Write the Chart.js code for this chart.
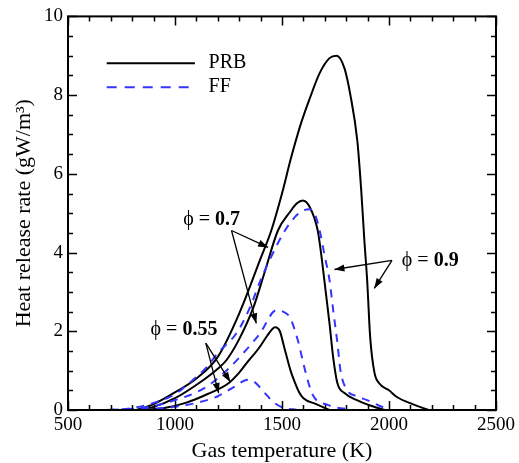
<!DOCTYPE html>
<html>
<head>
<meta charset="utf-8">
<script src="https://cdn.jsdelivr.net/npm/chart.js@4.4.1/dist/chart.umd.min.js"></script>
<style>
  html, body { margin: 0; padding: 0; background: #fff; }
  #wrap { width: 519px; height: 463px; position: relative; }
</style>
</head>
<body>
<div id="wrap"><canvas id="chart"></canvas></div>
<script>
// Gas temperature (K) / heat release rate (gW/m3)
const prb09T = [820, 900, 1000, 1100, 1200, 1300, 1400, 1450, 1500, 1542, 1588, 1630, 1676, 1722, 1755, 1792, 1819, 1852, 1870, 1885, 1898, 1912, 1932, 1954, 2000, 2037, 2110, 2185];
const prb09Q = [0, 0.15, 0.45, 0.8, 1.35, 2.45, 3.85, 4.56, 5.5, 6.4, 7.27, 7.92, 8.56, 8.94, 9.0, 8.68, 8.02, 6.84, 5.6, 4.3, 3.29, 1.85, 0.95, 0.68, 0.5, 0.33, 0.15, 0];

const prb07T = [830, 900, 1000, 1111, 1200, 1241, 1300, 1366, 1420, 1481, 1540, 1570, 1597, 1630, 1667, 1681, 1700, 1722, 1740, 1759, 1792, 1850, 1920, 1980];
const prb07Q = [0, 0.08, 0.3, 0.68, 1.05, 1.27, 1.8, 2.6, 3.52, 4.56, 5.05, 5.25, 5.32, 5.15, 4.56, 4.05, 3.2, 2.2, 1.3, 0.68, 0.43, 0.25, 0.1, 0];

const prb055T = [850, 950, 1050, 1150, 1250, 1300, 1343, 1389, 1430, 1455, 1468, 1490, 1510, 1540, 1560, 1580, 1600, 1660, 1722];
const prb055Q = [0, 0.05, 0.18, 0.4, 0.68, 0.95, 1.25, 1.55, 1.88, 2.06, 2.1, 2.0, 1.6, 1.0, 0.7, 0.45, 0.3, 0.15, 0];

const ff09T = [680, 800, 900, 1000, 1065, 1150, 1200, 1287, 1350, 1400, 1450, 1514, 1560, 1600, 1630, 1655, 1676, 1700, 1722, 1740, 1759, 1773, 1805, 1850, 1898, 1950, 2005];
const ff09Q = [0, 0.05, 0.18, 0.4, 0.68, 1.1, 1.45, 1.95, 2.6, 3.3, 3.9, 4.56, 4.9, 5.07, 5.1, 4.95, 4.56, 3.9, 3.3, 2.5, 1.7, 1.01, 0.5, 0.35, 0.25, 0.12, 0];

const ff07T = [700, 800, 900, 1000, 1100, 1171, 1250, 1320, 1360, 1398, 1430, 1455, 1472, 1505, 1537, 1574, 1611, 1644, 1713, 1838];
const ff07Q = [0, 0.03, 0.1, 0.25, 0.45, 0.68, 1.05, 1.45, 1.7, 1.95, 2.25, 2.47, 2.53, 2.5, 2.35, 1.77, 0.94, 0.38, 0.13, 0];

const ff055T = [700, 900, 1000, 1100, 1200, 1280, 1340, 1370, 1420, 1460, 1500, 1570];
const ff055Q = [0, 0.03, 0.08, 0.18, 0.35, 0.6, 0.77, 0.72, 0.43, 0.2, 0.07, 0];

const xTicks = [500, 1000, 1500, 2000, 2500];
const yTicks = [0, 2, 4, 6, 8, 10];

const FONT = '"Liberation Serif", "Times New Roman", serif';
const BLUE = '#3535ff';

function pts(xs, ys) {
	return xs.map((x, i) => ({ x, y: ys[i] }));
}

function solid(data) {
	return { data, borderColor: '#000', borderWidth: 2, pointRadius: 0, showLine: true, fill: false, cubicInterpolationMode: 'monotone' };
}
function dashed(data) {
	return { data, borderColor: BLUE, borderWidth: 2, borderDash: [8, 7], pointRadius: 0, showLine: true, fill: false, cubicInterpolationMode: 'monotone' };
}

function arrow(ctx, x0, y0, x1, y1) {
	ctx.beginPath();
	ctx.moveTo(x0, y0);
	ctx.lineTo(x1, y1);
	ctx.stroke();
	const a = Math.atan2(y1 - y0, x1 - x0);
	const L = 10, W = 3.5;
	ctx.beginPath();
	ctx.moveTo(x1, y1);
	ctx.lineTo(x1 - L * Math.cos(a) + W * Math.sin(a), y1 - L * Math.sin(a) - W * Math.cos(a));
	ctx.lineTo(x1 - L * Math.cos(a) - W * Math.sin(a), y1 - L * Math.sin(a) + W * Math.cos(a));
	ctx.closePath();
	ctx.fill();
}

function phiLabel(ctx, x, y, num, align) {
	const f1 = '20px ' + FONT;
	const f2 = 'bold 20px ' + FONT;
	ctx.font = f1;
	const w1 = ctx.measureText('\u03d5 = ').width;
	ctx.font = f2;
	const w2 = ctx.measureText(num).width;
	let left = align === 'left' ? x : x - (w1 + w2) / 2;
	ctx.textAlign = 'left';
	ctx.textBaseline = 'middle';
	ctx.font = f1;
	ctx.fillText('\u03d5 = ', left, y);
	ctx.font = f2;
	ctx.fillText(num, left + w1, y);
}

// frame, inward ticks on all sides, titles, legend and arrows
const decor = {
	id: 'decor',
	afterDatasetsDraw(chart) {
		const { ctx, chartArea: a, scales: { x, y } } = chart;
		ctx.save();
		ctx.strokeStyle = '#000';
		ctx.fillStyle = '#000';
		ctx.lineWidth = 2;
		ctx.strokeRect(a.left, a.top, a.right - a.left, a.bottom - a.top);
		ctx.lineWidth = 1.5;
		for (let v = 500; v <= 2500; v += 100) {
			const px = Math.round(x.getPixelForValue(v)) + 0.5;
			const len = v % 500 === 0 ? 9 : 5;
			ctx.beginPath();
			ctx.moveTo(px, a.bottom); ctx.lineTo(px, a.bottom - len);
			ctx.moveTo(px, a.top); ctx.lineTo(px, a.top + len);
			ctx.stroke();
		}
		for (let v = 0; v <= 10; v += 0.5) {
			const py = Math.round(y.getPixelForValue(v)) + 0.5;
			const len = v % 2 === 0 ? 9 : 5;
			ctx.beginPath();
			ctx.moveTo(a.left, py); ctx.lineTo(a.left + len, py);
			ctx.moveTo(a.right, py); ctx.lineTo(a.right - len, py);
			ctx.stroke();
		}

		// axis titles
		ctx.font = '22px ' + FONT;
		ctx.textAlign = 'center';
		ctx.textBaseline = 'alphabetic';
		ctx.fillText('Gas temperature (K)', (a.left + a.right) / 2, 457);
		ctx.save();
		ctx.translate(30, (a.top + a.bottom) / 2);
		ctx.rotate(-Math.PI / 2);
		ctx.fillText('Heat release rate (gW/m\u00b3)', 0, 0);
		ctx.restore();

		// legend
		ctx.lineWidth = 2;
		ctx.beginPath();
		ctx.moveTo(x.getPixelForValue(681), y.getPixelForValue(8.81));
		ctx.lineTo(x.getPixelForValue(1093), y.getPixelForValue(8.81));
		ctx.stroke();
		ctx.strokeStyle = BLUE;
		ctx.setLineDash([10, 8]);
		ctx.beginPath();
		ctx.moveTo(x.getPixelForValue(681), y.getPixelForValue(8.2));
		ctx.lineTo(x.getPixelForValue(1093), y.getPixelForValue(8.2));
		ctx.stroke();
		ctx.setLineDash([]);
		ctx.strokeStyle = '#000';
		ctx.font = '20px ' + FONT;
		ctx.textAlign = 'left';
		ctx.textBaseline = 'middle';
		ctx.fillText('PRB', x.getPixelForValue(1157), y.getPixelForValue(8.81));
		ctx.fillText('FF', x.getPixelForValue(1157), y.getPixelForValue(8.2));

		// phi annotations
		const P = (t, q) => [x.getPixelForValue(t), y.getPixelForValue(q)];
		ctx.lineWidth = 1.3;
		phiLabel(ctx, ...P(1171, 4.84), '0.7', 'center');
		arrow(ctx, ...P(1264, 4.56), ...P(1435, 4.13));
		arrow(ctx, ...P(1264, 4.56), ...P(1380, 2.2));
		phiLabel(ctx, ...P(2060, 3.8), '0.9', 'left');
		arrow(ctx, ...P(2014, 3.8), ...P(1745, 3.57));
		arrow(ctx, ...P(2014, 3.8), ...P(1931, 3.09));
		phiLabel(ctx, ...P(1042, 2.03), '0.55', 'center');
		arrow(ctx, ...P(1144, 1.7), ...P(1204, 0.43));
		arrow(ctx, ...P(1144, 1.7), ...P(1259, 0.71));
		ctx.restore();
	}
};

new Chart(document.getElementById('chart'), {
	type: 'scatter',
	data: {
		datasets: [
			dashed(pts(ff055T, ff055Q)),
			dashed(pts(ff07T, ff07Q)),
			dashed(pts(ff09T, ff09Q)),
			solid(pts(prb055T, prb055Q)),
			solid(pts(prb07T, prb07Q)),
			solid(pts(prb09T, prb09Q))
		]
	},
	options: {
		responsive: true,
		maintainAspectRatio: false,
		animation: false,
		layout: { padding: { top: 15, right: 19, left: 0, bottom: 0 } },
		plugins: { legend: { display: false }, tooltip: { enabled: false } },
		scales: {
			x: {
				type: 'linear', min: 500, max: 2500,
				grid: { display: false, drawTicks: false }, border: { display: false },
				afterBuildTicks: (s) => { s.ticks = xTicks.map(v => ({ value: v })); },
				afterFit: (s) => { s.height = 53; },
				ticks: { color: '#000', font: { family: FONT, size: 19 }, padding: 4, maxRotation: 0, autoSkip: false, callback: (v) => String(v) }
			},
			y: {
				type: 'linear', min: 0, max: 10,
				grid: { display: false, drawTicks: false }, border: { display: false },
				afterBuildTicks: (s) => { s.ticks = yTicks.map(v => ({ value: v })); },
				afterFit: (s) => { s.width = 68; },
				ticks: { color: '#000', font: { family: FONT, size: 19 }, padding: 5, autoSkip: false, callback: (v) => String(v) }
			}
		}
	},
	plugins: [decor]
});
</script>
</body>
</html>
